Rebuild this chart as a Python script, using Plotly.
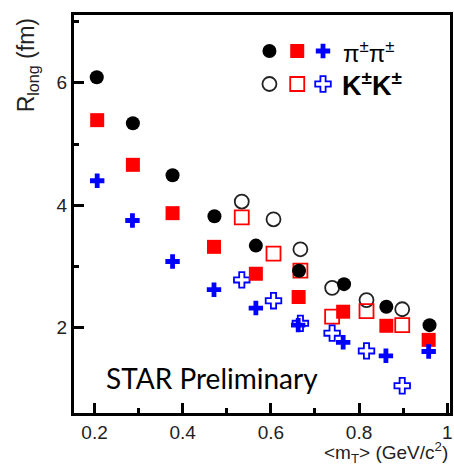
import plotly.graph_objects as go

# <m_T> bins (GeV/c^2) and R_long (fm)
pi_mt = [0.205, 0.287, 0.377, 0.472, 0.566, 0.664, 0.766, 0.862, 0.960]
pi_black = [6.09, 5.34, 4.49, 3.82, 3.34, 2.93, 2.71, 2.34, 2.04]
pi_red_mt = [0.206, 0.287, 0.377, 0.471, 0.566, 0.663, 0.764, 0.862, 0.958]
pi_red = [5.39, 4.66, 3.87, 3.32, 2.88, 2.50, 2.26, 2.03, 1.80]
pi_blue_mt = [0.206, 0.286, 0.377, 0.471, 0.566, 0.662, 0.764, 0.861, 0.958]
pi_blue = [4.40, 3.75, 3.08, 2.62, 2.32, 2.04, 1.76, 1.54, 1.61]

k_mt = [0.534, 0.606, 0.667, 0.739, 0.817, 0.898]
k_black = [4.06, 3.77, 3.28, 2.65, 2.45, 2.30]
k_red = [3.80, 3.21, 2.93, 2.18, 2.27, 2.04]
k_blue = [2.78, 2.44, 2.07, 1.91, 1.62, 1.05]

x_ticks = [0.2, 0.4, 0.6, 0.8, 1.0]
x_ticktext = ["0.2", "0.4", "0.6", "0.8", "1"]
y_ticks = [2, 4, 6]

W, H = 454, 465
ML, MR, MT, MB = 74, 1, 15, 52
FONT = "Arial, Liberation Sans, sans-serif"


def px(x):
    return (x - ML) / (W - ML - MR)


def py(y):
    return 1 - (y - MT) / (H - MT - MB)


BLACK, RED, BLUE = "black", "#ff0000", "#0000ff"

fig = go.Figure()


def add(xs, ys, symbol, color, size, open_=False, xaxis="x", yaxis="y"):
    if open_:
        marker = dict(symbol=symbol, size=size, color=color,
                      line=dict(color=color, width=1.8))
    else:
        marker = dict(symbol=symbol, size=size, color=color,
                      line=dict(width=0))
    fig.add_trace(go.Scatter(x=xs, y=ys, mode="markers", marker=marker,
                             showlegend=False, xaxis=xaxis, yaxis=yaxis,
                             cliponaxis=False))


# kaons (open) first so pions sit on top
add(k_mt, k_black, "circle-open", "#222222", 14, True)
add(k_mt, k_red, "square-open", RED, 14, True)
add(k_mt, k_blue, "cross-open", BLUE, 13, True)
add(pi_mt, pi_black, "circle", BLACK, 14)
add(pi_red_mt, pi_red, "square", RED, 14)
add(pi_blue_mt, pi_blue, "cross", BLUE, 12)

# key markers placed on a pixel-scaled overlay axis
key_x = [271, 299, 325]
key_y_pi, key_y_k = 51, 84
add([key_x[0]], [key_y_pi], "circle", BLACK, 14, xaxis="x2", yaxis="y2")
add([key_x[1]], [key_y_pi], "square", RED, 14, xaxis="x2", yaxis="y2")
add([key_x[2]], [key_y_pi], "cross", BLUE, 12, xaxis="x2", yaxis="y2")
add([key_x[0]], [key_y_k], "circle-open", "#222222", 14, True, xaxis="x2", yaxis="y2")
add([key_x[1]], [key_y_k], "square-open", RED, 14, True, xaxis="x2", yaxis="y2")
add([key_x[2]], [key_y_k], "cross-open", BLUE, 13, True, xaxis="x2", yaxis="y2")

axis_common = dict(showline=True, linecolor="black", linewidth=3, mirror=True,
                   ticks="inside", tickwidth=2.5, ticklen=10, tickcolor="black",
                   showgrid=False, zeroline=False,
                   tickfont=dict(family=FONT, size=19, color="#222222"))

fig.update_layout(
    width=W, height=H,
    margin=dict(l=ML, r=MR, t=MT, b=MB),
    paper_bgcolor="white", plot_bgcolor="white",
    xaxis=dict(range=[0.1534, 1.0064], tickvals=x_ticks, ticktext=x_ticktext,
               minor=dict(dtick=0.1, tick0=0, ticks="inside", ticklen=5,
                          tickwidth=2.5, tickcolor="black", showgrid=False),
               **axis_common),
    yaxis=dict(range=[0.605, 7.108], tickvals=y_ticks,
               minor=dict(dtick=1, tick0=0, ticks="inside", ticklen=5,
                          tickwidth=2.5, tickcolor="black", showgrid=False),
               **axis_common),
    xaxis2=dict(range=[ML, W - MR], overlaying="x", visible=False, fixedrange=True),
    yaxis2=dict(range=[H - MB, MT], overlaying="y", visible=False, fixedrange=True),
)

# white box behind the watermark text
fig.add_shape(type="rect", xref="paper", yref="paper",
              x0=px(74), x1=px(330), y0=py(402), y1=py(350),
              fillcolor="white", line=dict(width=0), layer="above")

fig.add_annotation(text="STAR Preliminary", xref="paper", yref="paper",
                   x=px(104), y=py(378), xanchor="left", yanchor="middle",
                   showarrow=False,
                   font=dict(family="Lato, Open Sans, sans-serif", size=28, color="black"))

fig.add_annotation(text="π<sup>±</sup>π<sup>±</sup>", xref="paper", yref="paper",
                   x=px(343), y=py(52), xanchor="left", yanchor="middle",
                   showarrow=False, font=dict(family=FONT, size=24, color="black"))
fig.add_annotation(text="<b>K<sup>±</sup>K<sup>±</sup></b>", xref="paper", yref="paper",
                   x=px(342), y=py(84), xanchor="left", yanchor="middle",
                   showarrow=False, font=dict(family=FONT, size=27, color="black"))

fig.add_annotation(text="R<sub>long</sub> (fm)", xref="paper", yref="paper",
                   x=px(27), y=py(65), xanchor="center", yanchor="middle",
                   textangle=-90, showarrow=False,
                   font=dict(family=FONT, size=23, color="#222222"))

fig.add_annotation(text="<m<sub>T</sub>> (GeV/c<sup>2</sup>)", xref="paper", yref="paper",
                   x=px(453), y=py(452), xanchor="right", yanchor="middle",
                   showarrow=False, font=dict(family=FONT, size=19, color="#222222"))

fig.write_html("out.html")
